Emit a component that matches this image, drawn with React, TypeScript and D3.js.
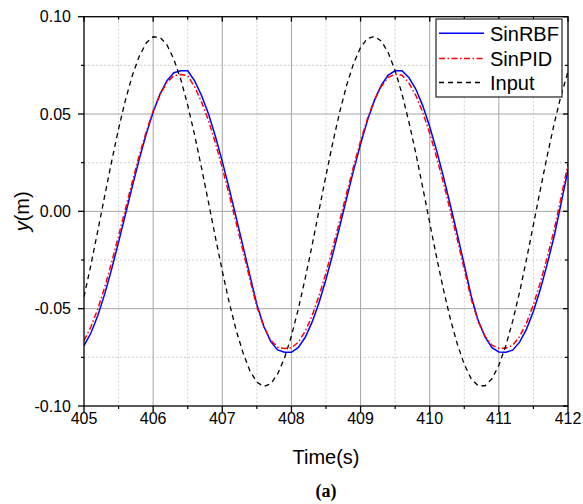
import React from "react";
import * as d3 from "d3";

const time: number[] = d3.range(0, 71).map((k) => +(405 + k * 0.1).toFixed(1));

const inputSeries: number[] = [
  -0.0439, -0.0275, -0.0099, 0.0081, 0.0257, 0.0424, 0.0573, 0.0699, 0.0798, 0.0865,
  0.0897, 0.0894, 0.0855, 0.0781, 0.0678, 0.0545, 0.0392, 0.0223, 0.0047, -0.0132,
  -0.0307, -0.0468, -0.061, -0.0727, -0.082, -0.0878, -0.09, -0.0886, -0.0836, -0.0753,
  -0.064, -0.0501, -0.0343, -0.0173, 0.0006, 0.0185, 0.0356, 0.0513, 0.065, 0.0761,
  0.0842, 0.0888, 0.0899, 0.0875, 0.0815, 0.0723, 0.0602, 0.0458, 0.0297, 0.0121,
  -0.0059, -0.0237, -0.0404, -0.0555, -0.0683, -0.0787, -0.086, -0.0896, -0.0896, -0.086,
  -0.0791, -0.0691, -0.0564, -0.0415, -0.0246, -0.0068, 0.0112, 0.0286, 0.045, 0.0596,
  0.0718,
];

const sinRBF: number[] = [
  -0.069, -0.0625, -0.0535, -0.0424, -0.0297, -0.0158, -0.0015, 0.013, 0.0269, 0.0397,
  0.051, 0.0602, 0.0671, 0.0712, 0.0722, 0.0722, 0.067, 0.0595, 0.0501, 0.0386,
  0.0257, 0.0117, -0.003, -0.018, -0.033, -0.0478, -0.059, -0.0668, -0.0712, -0.0724,
  -0.0724, -0.0699, -0.0647, -0.0568, -0.0468, -0.0349, -0.0217, -0.0075, 0.007, 0.0212,
  0.0346, 0.0468, 0.057, 0.0648, 0.07, 0.0722, 0.0722, 0.0687, 0.0627, 0.0542,
  0.0435, 0.0312, 0.0176, 0.003, -0.012, -0.0275, -0.0435, -0.056, -0.0645, -0.07,
  -0.0722, -0.0724, -0.0713, -0.0672, -0.0605, -0.0513, -0.04, -0.027, -0.0128, 0.004,
  0.0215,
];

const sinPID: number[] = [
  -0.0665, -0.0593, -0.0501, -0.0389, -0.0262, -0.0126, 0.0014, 0.0154, 0.0288, 0.0409,
  0.0516, 0.0601, 0.0663, 0.0697, 0.0703, 0.0697, 0.0639, 0.0562, 0.0467, 0.0352,
  0.0224, 0.0086, -0.0058, -0.0204, -0.035, -0.049, -0.0592, -0.0661, -0.0698, -0.0705,
  -0.0701, -0.0672, -0.0616, -0.0535, -0.0434, -0.0315, -0.0185, -0.0045, 0.0096, 0.0233,
  0.0362, 0.0477, 0.0572, 0.0642, 0.0688, 0.0704, 0.0699, 0.0659, 0.0595, 0.0508,
  0.0401, 0.0278, 0.0144, 0.0, -0.0146, -0.0298, -0.0451, -0.0565, -0.0641, -0.0688,
  -0.0704, -0.0703, -0.0688, -0.0643, -0.0573, -0.0479, -0.0365, -0.0236, -0.0094, 0.0072,
  0.0243,
];

const xTicks: number[] = [405, 406, 407, 408, 409, 410, 411, 412];
const xMinorTicks: number[] = [405.5, 406.5, 407.5, 408.5, 409.5, 410.5, 411.5];
const yTicks: number[] = [-0.1, -0.05, 0, 0.05, 0.1];
const yMinorTicks: number[] = [-0.075, -0.025, 0.025, 0.075];

const legendNames: string[] = ["SinRBF", "SinPID", "Input"];

const W = 583;
const H = 504;
const left = 84;
const right = 568;
const top = 16.7;
const bottom = 406;

export default function App() {
  const x = d3.scaleLinear().domain([405, 412]).range([left, right]);
  const y = d3.scaleLinear().domain([-0.1, 0.1]).range([bottom, top]);

  const mk = (vals: number[]) =>
    d3
      .line<number>()
      .x((_, i) => x(time[i]))
      .y((v) => y(v))(vals) || "";

  const series = [
    { name: legendNames[0], d: mk(sinRBF), color: "#0000ff", dash: "none", w: 1.5 },
    { name: legendNames[1], d: mk(sinPID), color: "#ff0000", dash: "6,2.5,1.5,2.5", w: 1.5 },
    { name: legendNames[2], d: mk(inputSeries), color: "#000000", dash: "5,4", w: 1.3 },
  ];

  const font = "Arial, 'Liberation Sans', sans-serif";
  const majorGrid = "#a6a6a6";
  const minorGrid = "#cfcfcf";
  const fmt = (v: number) => d3.format(".2f")(v).replace("\u2212", "-");

  const legendX = 436;
  const legendY = 19;
  const legendRowY = [33.3, 58.5, 82.5];

  return (
    <svg
      width={W}
      height={H}
      style={{ position: "absolute", left: 0, top: 0, background: "#fff" }}
      fontFamily={font}
    >
      <rect x={0} y={0} width={W} height={H} fill="#fff" />
      <defs>
        <clipPath id="plotClip">
          <rect x={left} y={top} width={right - left} height={bottom - top} />
        </clipPath>
      </defs>

      {/* minor grid */}
      {xMinorTicks.map((t) => (
        <line key={"xm" + t} x1={x(t)} x2={x(t)} y1={top} y2={bottom} stroke={minorGrid} strokeDasharray="2,2" />
      ))}
      {yMinorTicks.map((t) => (
        <line key={"ym" + t} x1={left} x2={right} y1={y(t)} y2={y(t)} stroke={minorGrid} strokeDasharray="2,2" />
      ))}
      {/* major grid */}
      {xTicks.slice(1, -1).map((t) => (
        <line key={"xg" + t} x1={x(t)} x2={x(t)} y1={top} y2={bottom} stroke={majorGrid} strokeWidth={1} />
      ))}
      {yTicks.slice(1, -1).map((t) => (
        <line key={"yg" + t} x1={left} x2={right} y1={y(t)} y2={y(t)} stroke={majorGrid} strokeWidth={1} />
      ))}

      {/* series */}
      <g clipPath="url(#plotClip)">
        {series.map((s) => (
          <path key={s.name} d={s.d} fill="none" stroke={s.color} strokeWidth={s.w} strokeDasharray={s.dash} />
        ))}
      </g>

      {/* frame */}
      <rect x={left} y={top} width={right - left} height={bottom - top} fill="none" stroke="#000" strokeWidth={1.3} />

      {/* ticks bottom (outward) and top (inward) */}
      {xTicks.map((t) => (
        <g key={"xt" + t}>
          <line x1={x(t)} x2={x(t)} y1={bottom} y2={bottom + 6} stroke="#000" strokeWidth={1.3} />
          <line x1={x(t)} x2={x(t)} y1={top} y2={top + 5} stroke="#000" strokeWidth={1.3} />
          <text x={x(t)} y={424} textAnchor="middle" fontSize={16} fill="#000">
            {t}
          </text>
        </g>
      ))}
      {xMinorTicks.map((t) => (
        <g key={"xmt" + t}>
          <line x1={x(t)} x2={x(t)} y1={bottom} y2={bottom + 3} stroke="#000" strokeWidth={1.2} />
          <line x1={x(t)} x2={x(t)} y1={top} y2={top + 3} stroke="#000" strokeWidth={1.2} />
        </g>
      ))}
      {/* ticks left (outward) and right (inward) */}
      {yTicks.map((t) => (
        <g key={"yt" + t}>
          <line x1={left - 6} x2={left} y1={y(t)} y2={y(t)} stroke="#000" strokeWidth={1.3} />
          <line x1={right - 5} x2={right} y1={y(t)} y2={y(t)} stroke="#000" strokeWidth={1.3} />
          <text x={71} y={y(t)} dy="0.36em" textAnchor="end" fontSize={16} fill="#000">
            {fmt(t)}
          </text>
        </g>
      ))}
      {yMinorTicks.map((t) => (
        <g key={"ymt" + t}>
          <line x1={left - 3} x2={left} y1={y(t)} y2={y(t)} stroke="#000" strokeWidth={1.2} />
          <line x1={right - 3} x2={right} y1={y(t)} y2={y(t)} stroke="#000" strokeWidth={1.2} />
        </g>
      ))}

      {/* axis titles */}
      <text x={(left + right) / 2} y={464} textAnchor="middle" fontSize={20} fill="#000">
        Time(s)
      </text>
      <text transform={`translate(29, ${(top + bottom) / 2}) rotate(-90)`} textAnchor="middle" fontSize={20} fill="#000">
        <tspan fontStyle="italic">y</tspan>
        <tspan>(m)</tspan>
      </text>
      <text
        x={(left + right) / 2}
        y={497}
        textAnchor="middle"
        fontSize={18}
        fontWeight="bold"
        fontFamily="'Liberation Serif', 'Times New Roman', serif"
        fill="#000"
      >
        (a)
      </text>

      {/* legend */}
      <rect x={legendX} y={legendY} width={126} height={78} fill="#fff" stroke="#222" strokeWidth={1.2} />
      {series.map((s, i) => (
        <g key={"lg" + s.name}>
          <line
            x1={439}
            x2={484}
            y1={legendRowY[i]}
            y2={legendRowY[i]}
            stroke={s.color}
            strokeWidth={s.w}
            strokeDasharray={s.dash}
          />
          <text x={490} y={legendRowY[i]} dy="0.36em" fontSize={20} fill="#000">
            {s.name}
          </text>
        </g>
      ))}
    </svg>
  );
}
